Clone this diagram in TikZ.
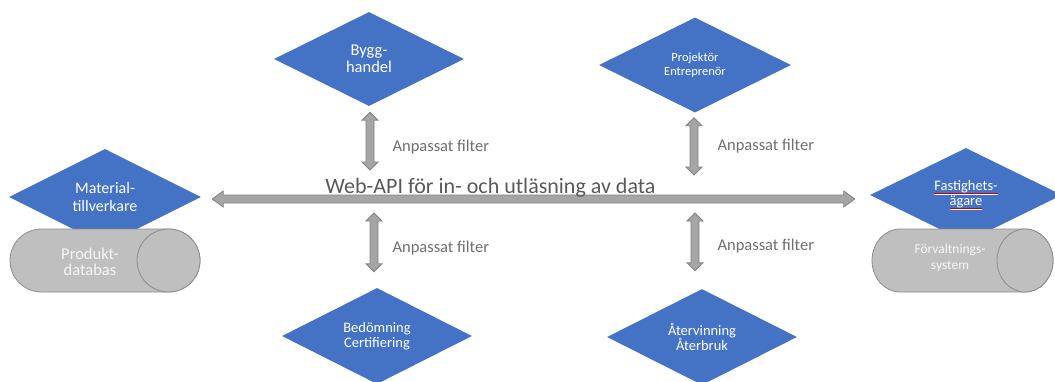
\documentclass[tikz,border=0pt]{standalone}
\usepackage{fontspec}
\setmainfont{Carlito}
\usetikzlibrary{shapes.geometric,calc}
\definecolor{dblue}{HTML}{4472C4}
\definecolor{agray}{HTML}{A5A5A5}
\definecolor{aedge}{HTML}{828282}
\definecolor{cgray}{HTML}{BFBFBF}
\definecolor{cedge}{HTML}{8C8C8C}
\definecolor{lblgray}{HTML}{6E6E6E}
\definecolor{apigray}{HTML}{595959}
\newcommand\fsz[2]{\fontsize{#1}{#2}\selectfont}
\newcommand\sperr[1]{\setbox0\hbox{#1}\rlap{\color{red!80!black}\rule[-3.4pt]{\wd0}{0.6pt}}\underline{#1}}
\newcommand\vblk[2]{\path[blk] let \p1=(#1), \p2=(#2) in
  (\x1,\y1) -- (\x1+8pt,\y1-8pt) -- (\x1+4pt,\y1-8pt) -- (\x1+4pt,\y2+8pt) -- (\x1+8pt,\y2+8pt)
  -- (\x1,\y2) -- (\x1-8pt,\y2+8pt) -- (\x1-4pt,\y2+8pt) -- (\x1-4pt,\y1-8pt) -- (\x1-8pt,\y1-8pt) -- cycle;}
\newcommand\hblk[2]{\path[blk] let \p1=(#1), \p2=(#2) in
  (\x1,\y1) -- (\x1+11pt,\y1+8pt) -- (\x1+11pt,\y1+4pt) -- (\x2-11pt,\y1+4pt) -- (\x2-11pt,\y1+8pt)
  -- (\x2,\y1) -- (\x2-11pt,\y1-8pt) -- (\x2-11pt,\y1-4pt) -- (\x1+11pt,\y1-4pt) -- (\x1+11pt,\y1-8pt) -- cycle;}
\begin{document}
\begin{tikzpicture}[x=1pt,y=-1pt,
  dia/.style={diamond, fill=dblue, draw=none, inner sep=0pt, text=white, align=center},
  blk/.style={fill=agray, draw=aedge, line width=0.8pt, line join=miter},
  cyl/.style={fill=cgray, draw=cedge, line width=0.8pt},
  cyltext/.style={text=white!93!gray, align=center},
  lbl/.style={text=lblgray, anchor=west, font=\fsz{16.5}{19}}]
\useasboundingbox (0,0) rectangle (1055,381);

% diamonds
\node[dia, minimum width=190pt, minimum height=94pt, font=\fsz{16.5}{16.5}] (byg) at (369,59) {Bygg-\\handel};
\node[dia, minimum width=192pt, minimum height=95pt, font=\fsz{12.5}{13.5}] (pro) at (695,65) {Projektör\\Entreprenör};
\node[dia, minimum width=190pt, minimum height=96pt, font=\fsz{14.5}{15.5}] (bed) at (377,336) {Bedömning\\Certifiering};
\node[dia, minimum width=190pt, minimum height=94pt, font=\fsz{14.5}{15.5}] (ate) at (702,337) {Återvinning\\Återbruk};
\node[dia, minimum width=192pt, minimum height=96pt, font=\fsz{16}{18}] (mat) at (105,197) {Material-\\tillverkare};
\node[dia, minimum width=192pt, minimum height=94pt, font=\fsz{14.5}{14.5}] (fas) at (966,195) {\sperr{Fastighets-}\\\sperr{ägare}};

% cylinders
\path[cyl] (41.5,229) -- (168.5,229) arc[start angle=90, end angle=-90, x radius=31.5pt, y radius=31.5pt]
  -- (41.5,292) arc[start angle=270, end angle=90, x radius=31.5pt, y radius=31.5pt] -- cycle;
\path[cyl] (168.5,260.5) ellipse[x radius=31.5pt, y radius=31.5pt];
\node[cyltext, font=\fsz{16.5}{15.5}] (prod) at (90,262) {Produkt-\\databas};

\path[cyl] (900,229) -- (1025,229) arc[start angle=90, end angle=-90, x radius=28pt, y radius=31.5pt]
  -- (900,292) arc[start angle=270, end angle=90, x radius=28pt, y radius=31.5pt] -- cycle;
\path[cyl] (1025,260.5) ellipse[x radius=28pt, y radius=31.5pt];
\node[cyltext, font=\fsz{13.5}{16}] (forv) at (950,258) {Förvaltnings-\\system};

% arrow end points
\coordinate (hL) at ($(mat.east)+(11,2)$);
\coordinate (hR) at ($(hL -| fas.west)+(-15,0)$);
\coordinate (u1a) at ($(byg.south)+(1,6)$);
\coordinate (u1b) at (370,170);
\coordinate (u2a) at ($(pro.south)+(-1,5)$);
\coordinate (u2b) at (694,175);
\coordinate (l1a) at (374,213);
\coordinate (l1b) at ($(bed.north)+(-3,-16)$);
\coordinate (l2a) at (695,213);
\coordinate (l2b) at ($(ate.north)+(-7,-18)$);

% block arrows
\hblk{hL}{hR}
\vblk{u1a}{u1b}
\vblk{u2a}{u2b}
\vblk{l1a}{l1b}
\vblk{l2a}{l2b}

% labels
\node[text=apigray, anchor=base, font=\fsz{22}{25}, inner sep=0pt] (api) at (490.5,193) {Web-API för in- och utläsning av data};
\node[lbl] (f1) at (389,147) {Anpassat filter};
\node[lbl] (f2) at (714,146) {Anpassat filter};
\node[lbl] (f3) at (389,248) {Anpassat filter};
\node[lbl] (f4) at (714,246) {Anpassat filter};
\end{tikzpicture}
\end{document}
